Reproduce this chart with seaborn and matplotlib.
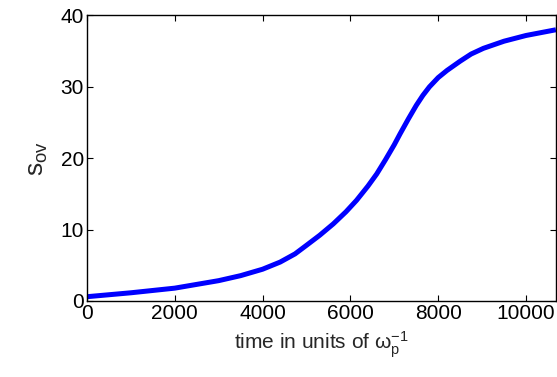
import numpy as np
import pandas as pd
import matplotlib
matplotlib.use('Agg')
import matplotlib.pyplot as plt
import seaborn as sns

# values
time = [0, 1000, 2000, 3000, 3500, 4000, 4400, 4740, 5000, 5300,
        5610, 5900, 6140, 6400, 6600, 6800, 7000, 7130, 7320, 7500,
        7650, 7800, 8000, 8200, 8500, 8750, 9030, 9500, 10000, 10680]
s_ov = [0.6, 1.15, 1.8, 2.85, 3.55, 4.45, 5.45, 6.6, 7.8, 9.2,
        10.8, 12.5, 14.1, 16.1, 17.8, 19.8, 21.9, 23.4, 25.5, 27.4,
        28.8, 30.0, 31.3, 32.3, 33.6, 34.6, 35.4, 36.4, 37.2, 38.0]

x_ticks = [0, 2000, 4000, 6000, 8000, 10000]
y_ticks = [0, 10, 20, 30, 40]

sns.set_style('ticks')
plt.rcParams['font.family'] = ['Liberation Sans', 'DejaVu Sans']
plt.rcParams['mathtext.fontset'] = 'custom'
plt.rcParams['mathtext.rm'] = 'Liberation Sans'
plt.rcParams['mathtext.it'] = 'Liberation Sans:italic'

df = pd.DataFrame({'t': time, 's': s_ov})

fig = plt.figure(figsize=(5.57, 3.77), dpi=100)
ax = fig.add_axes([0.156, 0.2016, 0.842, 0.7573])

sns.lineplot(data=df, x='t', y='s', ax=ax, color='#0000ff', linewidth=3.6,
             solid_joinstyle='round', solid_capstyle='butt')

ax.set_xlim(0, 10680)
ax.set_ylim(0, 40)
ax.set_xticks(x_ticks)
ax.set_yticks(y_ticks)
ax.tick_params(direction='in', length=4, width=0.8, labelsize=15,
               top=True, right=True, pad=2, colors='black')
for sp in ax.spines.values():
    sp.set_linewidth(1.0)
    sp.set_color('black')

ax.set_xlabel(r'time in units of $\mathregular{\omega_p^{-1}}$', fontsize=15, labelpad=5)
ax.set_ylabel(r'$\mathregular{s_{ov}}$', fontsize=19, labelpad=8)

fig.savefig('out.png', dpi=100)
